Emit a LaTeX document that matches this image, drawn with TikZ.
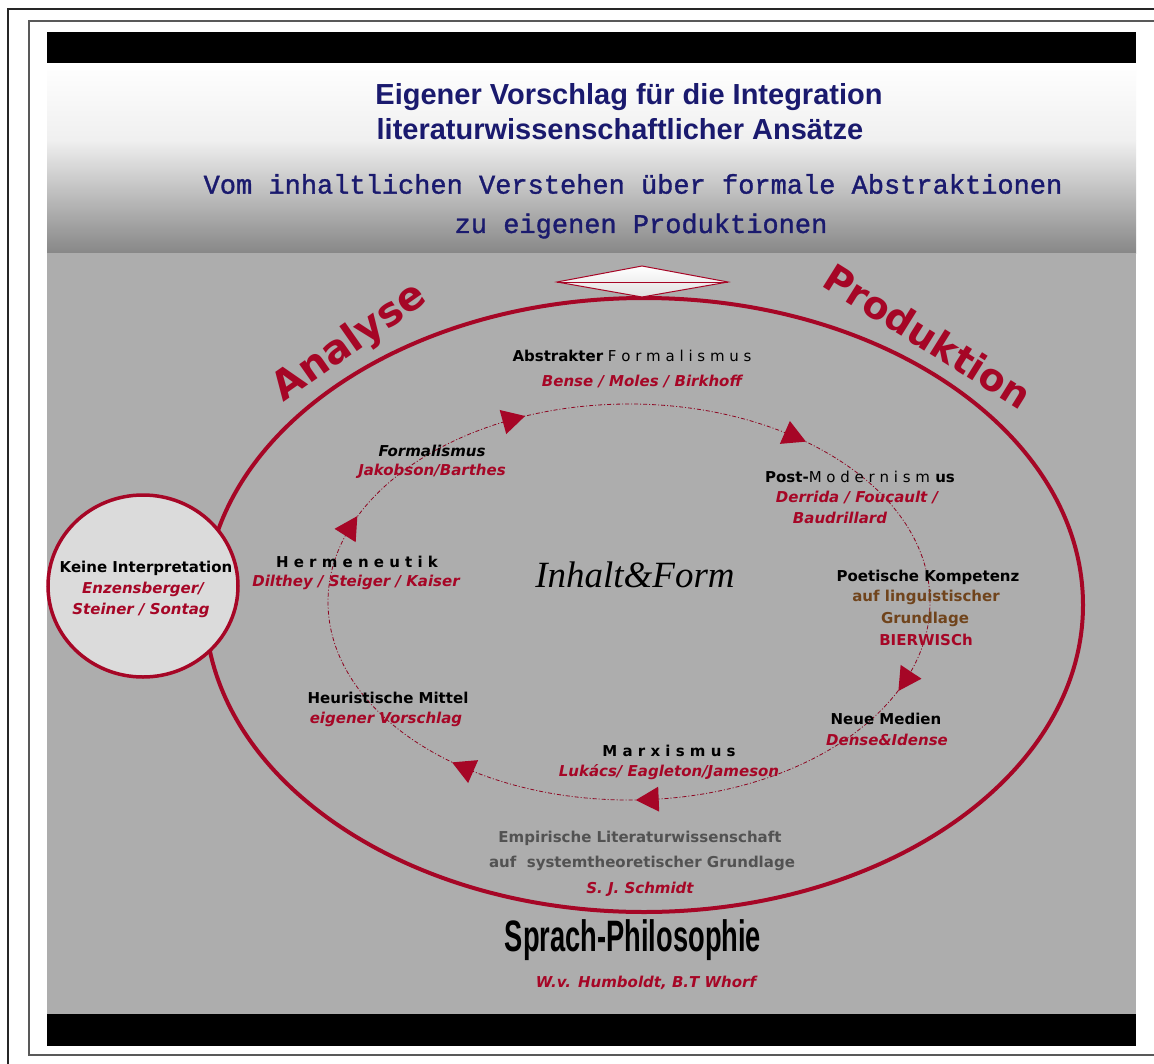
\documentclass[tikz,border=0pt]{standalone}
\usepackage{fontspec}
\usepackage{graphicx}
\setmainfont{DejaVu Sans}[ItalicFont={DejaVu Sans Oblique},BoldFont={DejaVu Sans Bold},BoldItalicFont={DejaVu Sans Bold Oblique}]
\newfontfamily\libsans{Liberation Sans}
\newfontfamily\monomed{Liberation Mono}[FakeBold=1.2]
\newfontfamily\libserif{Liberation Serif}
\usetikzlibrary{calc,decorations.markings}
\definecolor{crim}{RGB}{166,6,38}
\definecolor{navy}{RGB}{26,26,110}
\definecolor{bggray}{RGB}{173,173,173}
\definecolor{brn}{RGB}{112,68,28}
\definecolor{dgray}{RGB}{82,82,82}
\tikzset{
  lab/.style={inner sep=0pt, text=black, font=\fontsize{15}{18}\selectfont\bfseries},
  labit/.style={inner sep=0pt, text=black, font=\fontsize{15}{18}\selectfont\bfseries\itshape},
  nm/.style={inner sep=0pt, text=crim, font=\fontsize{15}{18}\selectfont\bfseries\itshape},
  big/.style={inner sep=0pt, text=crim, font=\fontsize{40}{40}\selectfont\bfseries},
  arrowtri/.style={decoration={markings, mark=at position 0.5 with {\fill[crim] (13,0) -- (-10,12.5) -- (-10,-12.5) -- cycle;}}, postaction=decorate},
}
\begin{document}
\begin{tikzpicture}[x=1pt,y=-1pt]
\useasboundingbox (0,0) rectangle (1154,1063);
\fill[white] (0,0) rectangle (1154,1063);
% frames
\draw[line width=2pt, black!85] (8,9) rectangle (1175,1085);
\draw[line width=1.5pt, black!65] (29,21) rectangle (1175,1055);
% bars and backgrounds
\fill[black] (47,32) rectangle (1136,63);
\shade[top color=white, bottom color=black!6] (47,63) rectangle (1136,140);
\shade[top color=black!6, bottom color=black!47] (47,140) rectangle (1136,253);
\fill[bggray] (47,253) rectangle (1136,1014);
\fill[black] (47,1014) rectangle (1136,1046);
% titles
\node[inner sep=0pt, text=navy, font=\libsans\bfseries\fontsize{29}{29}\selectfont] (t1) at (629,97) {Eigener Vorschlag für die Integration};
\node[inner sep=0pt, text=navy, font=\libsans\bfseries\fontsize{29}{29}\selectfont] (t2) at (620,129) {literaturwissenschaftlicher Ansätze};
\node[inner sep=0pt, text=navy, font=\monomed\fontsize{27}{27}\selectfont] (s1) at (633,184) {Vom inhaltlichen Verstehen über formale Abstraktionen};
\node[inner sep=0pt, text=navy, font=\monomed\fontsize{27}{27}\selectfont] (s2) at (641,226) {zu eigenen Produktionen};
% outer ellipse
\coordinate (oc) at (644,605);
\draw[crim, line width=4pt] (oc) ellipse [x radius=439pt, y radius=307pt];
% diamond
\coordinate (dl) at (557,282);
\coordinate (dt) at (642,266);
\coordinate (dr) at (728,282);
\coordinate (db) at (642,297);
\shade[top color=white, bottom color=black!12, draw=crim, line width=1pt] (dl) -- (dt) -- (dr) -- (db) -- cycle;
\draw[crim, line width=1pt] (dl) -- (dr);
% left circle
\coordinate (kc) at (143,586);
\draw[crim, line width=3.5pt, fill=black!14] (kc) ellipse [x radius=95pt, y radius=91pt];
% inner dashed ellipse
\coordinate (ic) at (629,602);
\draw[crim!85!black, line width=0.8pt, dash pattern=on 4pt off 2pt on 1pt off 2pt] (ic) ellipse [x radius=301pt, y radius=198pt];
\foreach \t in {23,86,123,202,247,303}{
  \path[arrowtri] ($(ic)+(\t:301 and 198)$) -- ($(ic)+(\t+0.5:301 and 198)$);
}
% big labels
\node[big, rotate=35] (ana) at (350,343) {Analyse};
\node[big, rotate=-32, font=\fontsize{38}{38}\selectfont\bfseries] (pro) at (928,336) {Produktion};
% labels
\node[lab] (af) at (632,356) {Abstrakter\textmd{ F o r m a l i s m u s}};
\node[nm] (afn) at (642,381) {Bense / Moles / Birkhoff};
\node[labit] (fo) at (432,451) {Formalismus};
\node[nm] (fon) at (432,471) {Jakobson/Barthes};
\node[lab] (pm) at (860,477) {Post-\textmd{M o d e r n i s m} us};
\node[nm] (pmn1) at (857,497) {Derrida / Foucault /};
\node[nm] (pmn2) at (840,518) {Baudrillard};
\node[lab] (he) at (357,562) {H e r m e n e u t i k};
\node[nm] (hen) at (356,582) {Dilthey / Steiger / Kaiser};
\node[lab] (ke) at (146,568) {Keine Interpretation};
\node[nm] (ken1) at (143,589) {Enzensberger/};
\node[nm] (ken2) at (141,610) {Steiner / Sontag};
\node[inner sep=0pt, font=\libserif\itshape\fontsize{37}{37}\selectfont] (if) at (635,575) {Inhalt\&Form};
\node[lab] (pk) at (928,577) {Poetische Kompetenz};
\node[lab, text=brn] (pk2) at (926,597) {auf linguistischer};
\node[lab, text=brn] (pk3) at (925,619) {Grundlage};
\node[lab, text=crim] (pk4) at (926,640) {BIERWISCh};
\node[lab] (nme) at (886,719) {Neue Medien};
\node[nm] (nmen) at (887,740) {Dense\&Idense};
\node[lab] (ma) at (669,751) {M a r x i s m u s};
\node[nm] (man) at (669,772) {Lukács/ Eagleton/Jameson};
\node[lab] (hm) at (388,698) {Heuristische Mittel};
\node[nm] (hmn) at (386,719) {eigener Vorschlag};
\node[lab, text=dgray] (em1) at (640,838) {Empirische Literaturwissenschaft};
\node[lab, text=dgray] (em2) at (642,863) {auf \ systemtheoretischer Grundlage};
\node[nm] (emn) at (640,889) {S. J. Schmidt};
\node[inner sep=0pt, font=\libsans\bfseries\fontsize{44}{44}\selectfont] (sp) at (633,940) {\scalebox{0.62}[1]{Sprach-Philosophie}};
\node[nm] (spn) at (646,983) {W.v. Humboldt, B.T Whorf};
\end{tikzpicture}
\end{document}
